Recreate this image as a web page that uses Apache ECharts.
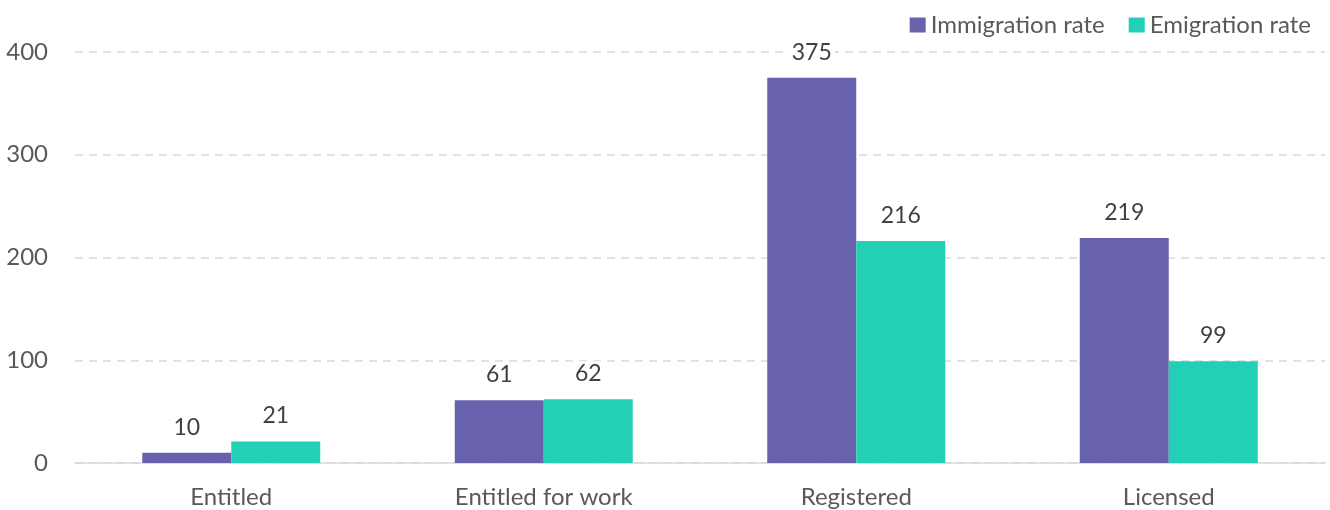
<!DOCTYPE html>
<html>
<head>
<meta charset="utf-8">
<script src="https://cdn.jsdelivr.net/npm/echarts@6/dist/echarts.min.js"></script>
<style>
html, body { margin: 0; padding: 0; background: #fff; }
#main { width: 1330px; height: 510px; }
</style>
</head>
<body>
<div id="main"></div>
<script>
// data
const categories = ['Entitled', 'Entitled for work', 'Registered', 'Licensed'];
const immigration = [10, 61, 375, 219];
const emigration = [21, 62, 216, 99];
const seriesNames = ['Immigration rate', 'Emigration rate'];

const chart = echarts.init(document.getElementById('main'));
const font = 'Lato, "Open Sans", sans-serif';

const label = {
    show: true,
    position: 'top',
    distance: 13,
    color: '#404040',
    fontSize: 23,
    fontFamily: font,
    backgroundColor: '#fff',
    padding: [1, 3]
};

const option = {
    animation: false,
    legend: {
        top: 8,
        right: 14,
        itemWidth: 16,
        itemHeight: 15,
        itemGap: 24,
        icon: 'rect',
        textStyle: { color: '#595959', fontSize: 24, fontFamily: font }
    },
    grid: { left: 75, right: 5, top: 52, bottom: 47, containLabel: false },
    xAxis: {
        type: 'category',
        data: categories,
        axisTick: { show: false },
        axisLine: { lineStyle: { color: '#d9d9d9', width: 1.5 } },
        axisLabel: { color: '#595959', fontSize: 24, fontFamily: font, margin: 22 }
    },
    yAxis: {
        type: 'value',
        min: 0,
        max: 400,
        interval: 100,
        axisLine: { show: false },
        axisTick: { show: false },
        axisLabel: { color: '#595959', fontSize: 24, fontFamily: font, margin: 27 },
        splitLine: { lineStyle: { color: '#d9d9d9', type: [8, 6], width: 1.5 } }
    },
    series: [
        {
            name: seriesNames[0],
            type: 'bar',
            data: immigration,
            barWidth: 89,
            barGap: '0%',
            itemStyle: { color: '#6861AB' },
            label: label
        },
        {
            name: seriesNames[1],
            type: 'bar',
            data: emigration,
            barWidth: 89,
            itemStyle: { color: '#21D0B5' },
            label: label
        }
    ]
};

chart.setOption(option);
</script>
</body>
</html>
